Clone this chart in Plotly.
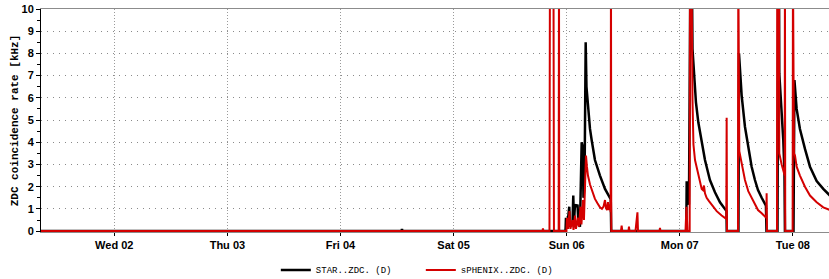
import plotly.graph_objects as go

# ---------------- data ----------------
star_time = [
    "2025-07-01 00:00",
    "2025-07-04 12:57", "2025-07-04 13:03", "2025-07-04 13:09",
    "2025-07-05 23:45", "2025-07-05 23:51", "2025-07-06 00:04", "2025-07-06 00:23", "2025-07-06 00:33",
    "2025-07-06 00:42", "2025-07-06 01:14", "2025-07-06 01:24", "2025-07-06 01:33", "2025-07-06 01:46",
    "2025-07-06 02:07", "2025-07-06 02:18", "2025-07-06 02:30", "2025-07-06 02:49", "2025-07-06 03:11",
    "2025-07-06 03:24", "2025-07-06 03:34", "2025-07-06 03:47", "2025-07-06 04:02", "2025-07-06 04:12",
    "2025-07-06 04:35", "2025-07-06 04:57", "2025-07-06 05:18", "2025-07-06 06:00", "2025-07-06 07:04",
    "2025-07-06 08:08", "2025-07-06 09:11", "2025-07-06 09:21", "2025-07-06 09:27",
    "2025-07-07 01:23", "2025-07-07 01:28", "2025-07-07 01:35", "2025-07-07 01:44", "2025-07-07 01:57",
    "2025-07-07 02:16", "2025-07-07 02:33", "2025-07-07 02:42", "2025-07-07 03:01", "2025-07-07 03:26",
    "2025-07-07 03:56", "2025-07-07 04:39", "2025-07-07 05:21", "2025-07-07 06:24", "2025-07-07 07:28",
    "2025-07-07 08:32", "2025-07-07 09:35", "2025-07-07 09:55", "2025-07-07 09:58",
    "2025-07-07 12:27", "2025-07-07 12:34", "2025-07-07 13:08", "2025-07-07 13:50", "2025-07-07 14:32",
    "2025-07-07 15:15", "2025-07-07 15:57", "2025-07-07 16:36", "2025-07-07 17:23", "2025-07-07 18:17",
    "2025-07-07 18:24",
    "2025-07-07 20:44", "2025-07-07 20:54", "2025-07-07 21:03", "2025-07-07 21:07", "2025-07-07 21:37",
    "2025-07-07 21:58", "2025-07-07 22:13", "2025-07-07 22:19",
    "2025-07-08 00:08", "2025-07-08 00:20", "2025-07-08 00:48", "2025-07-08 01:30", "2025-07-08 02:34",
    "2025-07-08 03:38", "2025-07-08 05:03", "2025-07-08 06:27", "2025-07-08 07:52",
]
star_rate = [
    0,
    0, 0.1, 0,
    0, 0.6, 0.1, 1.0, 1.1,
    0.2, 0.3, 1.6, 0.4, 1.2,
    1.1, 1.2, 0.3, 0.2, 4.0,
    3.8, 1.5, 2.0, 8.5, 6.5,
    5.3, 4.6, 4.1, 3.2, 2.5,
    1.9, 1.5, 1.45, 0,
    0, 2.25, 1.2, 1.3, 1.2,
    12, 12, 8.2, 7.0, 5.8,
    4.9, 4.0, 3.2, 2.3, 1.75,
    1.3, 0.95, 0.9, 0,
    0, 8.0, 6.1, 4.7, 3.7,
    2.9, 2.3, 1.85, 1.5, 1.15,
    0,
    0, 12, 12, 7.1, 5.5,
    4.1, 2.6, 0,
    0, 6.8, 5.5, 4.6, 3.7,
    2.9, 2.25, 1.9, 1.6,
]

sphenix_time = [
    "2025-07-01 00:00",
    "2025-07-05 18:52", "2025-07-05 18:58", "2025-07-05 19:05",
    "2025-07-05 20:21", "2025-07-05 20:27", "2025-07-05 21:12", "2025-07-05 21:18",
    "2025-07-05 22:18", "2025-07-05 22:22", "2025-07-05 22:26",
    "2025-07-05 23:57", "2025-07-06 00:04", "2025-07-06 00:17", "2025-07-06 00:36", "2025-07-06 00:48",
    "2025-07-06 01:14", "2025-07-06 01:27", "2025-07-06 01:46", "2025-07-06 01:58", "2025-07-06 02:24",
    "2025-07-06 02:37", "2025-07-06 02:56", "2025-07-06 03:08", "2025-07-06 03:28", "2025-07-06 03:40",
    "2025-07-06 03:53", "2025-07-06 04:06", "2025-07-06 04:18", "2025-07-06 04:31", "2025-07-06 04:57",
    "2025-07-06 05:28", "2025-07-06 06:00", "2025-07-06 06:32", "2025-07-06 07:04", "2025-07-06 07:29",
    "2025-07-06 07:49", "2025-07-06 08:08", "2025-07-06 08:20", "2025-07-06 08:33", "2025-07-06 08:46",
    "2025-07-06 08:59", "2025-07-06 09:11", "2025-07-06 09:20", "2025-07-06 09:24", "2025-07-06 09:28",
    "2025-07-06 11:31", "2025-07-06 11:40", "2025-07-06 11:48", "2025-07-06 13:07", "2025-07-06 13:13",
    "2025-07-06 13:20", "2025-07-06 14:36", "2025-07-06 14:49", "2025-07-06 15:01", "2025-07-06 15:08",
    "2025-07-06 19:42", "2025-07-06 19:48", "2025-07-06 19:54",
    "2025-07-07 01:13", "2025-07-07 01:25", "2025-07-07 01:38", "2025-07-07 02:06", "2025-07-07 02:10",
    "2025-07-07 02:29", "2025-07-07 02:42", "2025-07-07 02:54", "2025-07-07 03:14", "2025-07-07 03:56",
    "2025-07-07 04:39", "2025-07-07 04:55", "2025-07-07 05:08", "2025-07-07 05:21", "2025-07-07 05:42",
    "2025-07-07 06:12", "2025-07-07 06:46", "2025-07-07 07:50", "2025-07-07 08:53", "2025-07-07 09:52",
    "2025-07-07 09:57", "2025-07-07 10:01",
    "2025-07-07 12:21", "2025-07-07 12:25", "2025-07-07 12:38", "2025-07-07 13:08", "2025-07-07 13:50",
    "2025-07-07 14:32", "2025-07-07 15:15", "2025-07-07 15:57", "2025-07-07 16:36", "2025-07-07 17:23",
    "2025-07-07 18:21", "2025-07-07 18:26", "2025-07-07 18:30",
    "2025-07-07 20:38", "2025-07-07 20:41", "2025-07-07 21:03", "2025-07-07 21:07", "2025-07-07 21:37",
    "2025-07-07 21:58", "2025-07-07 22:16", "2025-07-07 22:19", "2025-07-07 22:23",
    "2025-07-07 23:57", "2025-07-08 00:01", "2025-07-08 00:14", "2025-07-08 00:27", "2025-07-08 00:48",
    "2025-07-08 01:30", "2025-07-08 02:34", "2025-07-08 03:38", "2025-07-08 05:03", "2025-07-08 06:27",
    "2025-07-08 07:52",
]
sphenix_rate = [
    0,
    0, 0.12, 0,
    0, 12, 12, 0,
    0, 12, 0,
    0, 0.6, 0.1, 0.9, 0.1,
    0.5, 0.05, 0.7, 0.1, 0.6,
    0.2, 1.1, 0.3, 1.4, 0.5,
    2.0, 3.4, 2.9, 2.5, 2.1,
    1.75, 1.45, 1.25, 1.07, 1.0,
    1.1, 1.4, 1.05, 0.95, 1.3,
    0.95, 1.2, 0.85, 12, 0,
    0, 0.25, 0, 0, 0.2,
    0, 0, 0.4, 0.85, 0,
    0, 0.15, 0,
    0, 1.1, 0, 0, 12,
    12, 5.9, 3.9, 3.2, 2.5,
    1.9, 1.85, 2.05, 1.7, 1.5,
    1.35, 1.2, 0.9, 0.7, 0.55,
    5.1, 0,
    0, 12, 3.6, 3.0, 2.3,
    1.8, 1.5, 1.2, 0.95, 0.8,
    0.6, 1.7, 0,
    0, 12, 12, 3.5, 3.0,
    2.7, 2.5, 12, 0,
    0, 12, 3.5, 3.4, 2.9,
    2.5, 2.0, 1.6, 1.3, 1.07,
    0.95,
]

day_ticks = ["2025-07-02", "2025-07-03", "2025-07-04", "2025-07-05",
             "2025-07-06", "2025-07-07", "2025-07-08"]
day_labels = ["Wed 02", "Thu 03", "Fri 04", "Sat 05", "Sun 06", "Mon 07", "Tue 08"]
x_range = ["2025-07-01 08:27", "2025-07-08 07:40"]
y_ticks = list(range(0, 11))

# ---------------- figure ----------------
fig = go.Figure()
fig.add_trace(go.Scatter(
    x=star_time, y=star_rate, mode="lines", name="STAR..ZDC. (D)",
    line=dict(color="#000000", width=2.5), hoverinfo="skip",
))
fig.add_trace(go.Scatter(
    x=sphenix_time, y=sphenix_rate, mode="lines", name="sPHENIX..ZDC. (D)",
    line=dict(color="#d40000", width=2), hoverinfo="skip",
))

tick_font = dict(family="Liberation Sans", size=11, color="#000000", weight="bold")

fig.update_layout(
    width=829, height=279,
    margin=dict(l=41, r=0, t=9, b=47, autoexpand=False),
    paper_bgcolor="#ffffff", plot_bgcolor="#ffffff",
    showlegend=True,
    legend=dict(
        orientation="h", x=0.298, xanchor="left", y=-0.17, yanchor="middle",
        font=dict(family="Liberation Mono", size=9, color="#000000"),
        entrywidth=100, entrywidthmode="pixels",
        bgcolor="rgba(0,0,0,0)", borderwidth=0,
    ),
    xaxis=dict(
        type="date", range=x_range, automargin=False, layer="below traces",
        tickmode="array", tickvals=day_ticks, ticktext=day_labels,
        tickfont=tick_font, ticks="outside", ticklen=3, tickcolor="#000000",
        showgrid=True, gridcolor="#9a9a9a", griddash="1px,2px", gridwidth=1,
        showline=True, linecolor="#8c8c8c", linewidth=1, mirror=True,
        zeroline=False, fixedrange=True,
    ),
    yaxis=dict(
        range=[-0.04, 10], tickmode="array", tickvals=y_ticks, automargin=False, layer="below traces",
        tickfont=tick_font, ticks="outside", ticklen=4, tickcolor="#000000",
        minor=dict(dtick=0.5, ticks="outside", ticklen=3, tickcolor="#000000", showgrid=False),
        showgrid=True, gridcolor="#8a8a8a", griddash="1px,5px", gridwidth=1,
        showline=True, linecolor="#000000", linewidth=1, mirror=False,
        zeroline=False, fixedrange=True,
        title=dict(text="ZDC coincidence rate [kHz]", standoff=0,
                   font=dict(family="Liberation Mono", size=11, color="#000000", weight="bold")),
    ),
)

fig.write_html(
    "out.html",
    config={"displayModeBar": False, "staticPlot": True},
    post_script="document.body.style.margin='0';document.body.style.overflow='hidden';",
)
